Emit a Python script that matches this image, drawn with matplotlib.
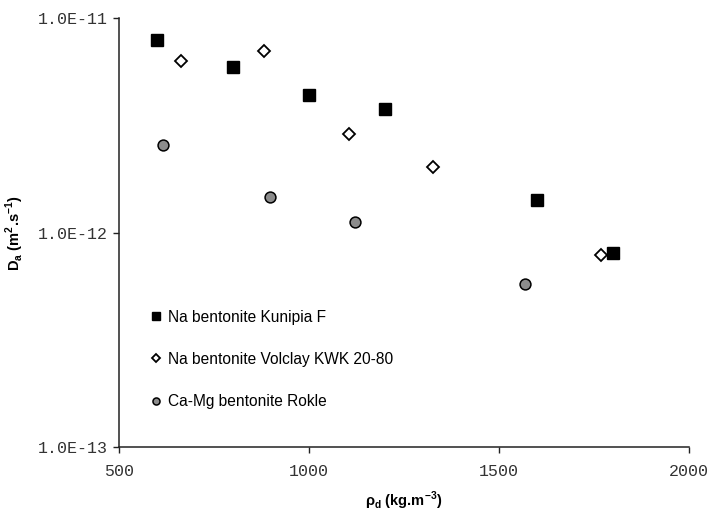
import matplotlib
matplotlib.use("Agg")
import matplotlib.pyplot as plt
from matplotlib.ticker import FixedLocator, NullLocator

# Data
kunipia_x = [600, 800, 1000, 1200, 1600, 1800]
kunipia_y = [7.95e-12, 5.95e-12, 4.39e-12, 3.76e-12, 1.42e-12, 8.0e-13]
volclay_x = [663, 882, 1104, 1327, 1767]
volclay_y = [6.3e-12, 7.05e-12, 2.9e-12, 2.03e-12, 7.85e-13]
rokle_x = [614, 896, 1121, 1567]
rokle_y = [2.57e-12, 1.47e-12, 1.12e-12, 5.75e-13]

labels = ["Na bentonite Kunipia F", "Na bentonite Volclay KWK 20-80", "Ca-Mg bentonite Rokle"]
x_ticks = [500, 1000, 1500, 2000]
y_ticks = [1e-13, 1e-12, 1e-11]
y_tick_labels = ["1.0E-13", "1.0E-12", "1.0E-11"]

fig = plt.figure(figsize=(7.1, 5.15), dpi=100)
ax = fig.add_axes([0.168, 0.132, 0.8025, 0.8325])

ax.plot(kunipia_x, kunipia_y, linestyle="none", marker="s", markersize=8.2,
        markerfacecolor="black", markeredgecolor="black", label=labels[0])
ax.plot(volclay_x, volclay_y, linestyle="none", marker="D", markersize=6.0,
        markerfacecolor="white", markeredgecolor="black", markeredgewidth=1.3, label=labels[1])
ax.plot(rokle_x, rokle_y, linestyle="none", marker="o", markersize=7.8,
        markerfacecolor="#8c8c8c", markeredgecolor="black", markeredgewidth=1.1, label=labels[2])

ax.set_yscale("log")
ax.set_xlim(500, 2000)
ax.set_ylim(1e-13, 1e-11)
ax.xaxis.set_major_locator(FixedLocator(x_ticks))
ax.yaxis.set_major_locator(FixedLocator(y_ticks))
ax.yaxis.set_minor_locator(NullLocator())
ax.set_yticklabels(y_tick_labels)
ax.set_xticklabels([str(v) for v in x_ticks])

for s in ["top", "right"]:
    ax.spines[s].set_visible(False)
for s in ["left", "bottom"]:
    ax.spines[s].set_linewidth(1.1)
    ax.spines[s].set_color("#222222")

ax.tick_params(axis="both", direction="out", length=4, width=1.0, colors="#222222",
               labelcolor="#333333", labelsize=12, pad=4)
for lab in ax.get_xticklabels() + ax.get_yticklabels():
    lab.set_family("Liberation Mono")
ax.tick_params(axis="x", pad=8)

ax.set_xlabel("ρ$_\\mathregular{d}$ (kg.m$^\\mathregular{-3}$)", family="Liberation Sans",
              fontweight="bold", fontsize=10.5)
ax.set_ylabel("D$_\\mathregular{a}$ (m$^\\mathregular{2}$.s$^\\mathregular{-1}$)", family="Liberation Sans",
              fontweight="bold", fontsize=10.5)
ax.xaxis.set_label_coords(0.5, -0.125)
ax.yaxis.set_label_coords(-0.183, 0.5)
ax.yaxis.label.set_verticalalignment("center")
ax.xaxis.label.set_verticalalignment("center")

leg = ax.legend(loc="upper left", bbox_to_anchor=(0.045, 0.335), frameon=False,
                prop={"family": "Liberation Sans", "size": 11.2},
                markerscale=0.65, handlelength=0.6, handletextpad=0.5, labelspacing=1.75,
                borderaxespad=0)

fig.savefig("out.png", dpi=100)
